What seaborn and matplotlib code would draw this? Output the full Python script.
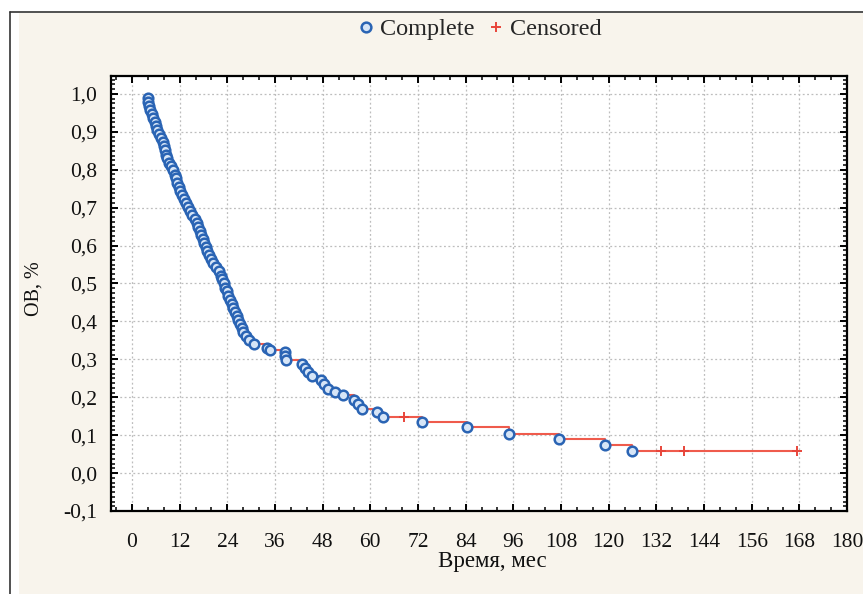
import matplotlib
matplotlib.use("Agg")
import matplotlib.pyplot as plt
from matplotlib.ticker import MultipleLocator, FuncFormatter
from matplotlib.patches import Rectangle
from matplotlib.lines import Line2D
import pandas as pd
import seaborn as sns

# Completed observations: time (months) and survival estimate after the event
event_months = [4.0, 4.1, 4.3, 4.6, 5.0, 5.4, 5.7, 6.0, 6.3, 6.9, 7.4, 7.8, 8.0, 8.2,
                8.5, 8.8, 9.4, 9.9, 10.4, 10.7, 11.0, 11.3, 11.7, 12.0, 12.5, 13.1,
                13.6, 14.0, 14.5, 15.2, 15.8, 16.3, 16.7, 17.1, 17.4, 17.8, 18.1,
                18.5, 18.9, 19.4, 19.9, 20.5, 21.2, 21.8, 22.3, 22.7, 23.1, 23.5,
                23.8, 24.1, 24.6, 25.1, 25.5, 25.9, 26.3, 26.8, 27.2, 27.6, 28.0,
                28.6, 29.4, 30.8, 34.0, 34.8, 38.5, 38.6, 38.7, 42.7, 43.6, 44.3,
                45.3, 47.6, 48.3, 49.4, 51.0, 53.0, 56.0, 57.0, 58.0, 61.6, 63.3,
                73.0, 84.3, 94.8, 107.4, 119.1, 125.9]
event_surv = [0.989, 0.978, 0.968, 0.957, 0.947, 0.936, 0.926, 0.915, 0.904, 0.894,
              0.883, 0.872, 0.862, 0.851, 0.840, 0.830, 0.819, 0.809, 0.798, 0.787,
              0.777, 0.766, 0.755, 0.745, 0.734, 0.723, 0.713, 0.702, 0.691, 0.681,
              0.670, 0.660, 0.649, 0.638, 0.628, 0.617, 0.606, 0.596, 0.585, 0.574,
              0.564, 0.553, 0.543, 0.532, 0.521, 0.511, 0.500, 0.489, 0.479, 0.468,
              0.457, 0.447, 0.436, 0.426, 0.415, 0.404, 0.394, 0.383, 0.372, 0.362,
              0.351, 0.340, 0.330, 0.325, 0.319, 0.309, 0.298, 0.287, 0.277, 0.266,
              0.255, 0.245, 0.234, 0.223, 0.213, 0.206, 0.193, 0.181, 0.170, 0.160,
              0.149, 0.135, 0.121, 0.104, 0.090, 0.073, 0.058]

# Censored observations
censor_months = [68.4, 133.2, 139.0, 167.4]
censor_surv = [0.149, 0.058, 0.058, 0.058]

x_ticks = list(range(0, 181, 12))
y_ticks = [-0.1, 0.0, 0.1, 0.2, 0.3, 0.4, 0.5, 0.6, 0.7, 0.8, 0.9, 1.0]

x_label = "Время, мес"
y_label = "ОВ, %"
legend_labels = ["Complete", "Censored"]

BEIGE = "#f8f4ec"
LINE_RED = "#ef5b4c"
CIRCLE_EDGE = "#2a64b4"
CIRCLE_FACE = "#d6e5f7"
PLUS_RED = "#e8453a"

sns.set_theme(style="white")
plt.rcParams["font.family"] = ["Liberation Serif", "DejaVu Serif"]

W, H = 863, 594
fig = plt.figure(figsize=(W / 100, H / 100), dpi=100, facecolor="white")

# Beige panel with a thin dark rule on its left and top edges
fig.patches.append(Rectangle((19 / W, 0), 1 - 19 / W, 1 - 13 / H,
                             transform=fig.transFigure, facecolor=BEIGE,
                             edgecolor="none", zorder=-10))
fig.lines.append(Line2D([10 / W, 10 / W], [0, 1 - 12 / H], transform=fig.transFigure,
                        color="#333333", lw=1.2, zorder=-5))
fig.lines.append(Line2D([10 / W, 1], [1 - 12 / H, 1 - 12 / H], transform=fig.transFigure,
                        color="#333333", lw=1.2, zorder=-5))

left, right, bottom, top = 111 / W, 847 / W, 1 - 511 / H, 1 - 75.7 / H
ax = fig.add_axes([left, bottom, right - left, top - bottom])
ax.set_zorder(1)
ax.set_facecolor("white")

# Kaplan–Meier step curve, starting at the first event
step_x = [event_months[0]] + event_months + [censor_months[-1]]
step_y = [1.0] + event_surv + [event_surv[-1]]
steps = pd.DataFrame({"t": step_x, "s": step_y})
sns.lineplot(data=steps, x="t", y="s", ax=ax, drawstyle="steps-post", sort=False,
             estimator=None, color=LINE_RED, lw=1.5, zorder=3)

events = pd.DataFrame({"t": event_months, "s": event_surv})
sns.scatterplot(data=events, x="t", y="s", ax=ax, marker="o", s=48,
                facecolor=CIRCLE_FACE, edgecolor=CIRCLE_EDGE, linewidth=1.8, zorder=4)

cens = pd.DataFrame({"t": censor_months, "s": censor_surv})
sns.scatterplot(data=cens, x="t", y="s", ax=ax, marker="+", s=45,
                color=PLUS_RED, linewidth=1.4, zorder=5)

ax.set_xlim(-5.3, 180)
ax.set_ylim(-0.1, 1.048)
ax.set_xticks(x_ticks)
ax.set_yticks(y_ticks)
ax.xaxis.set_minor_locator(MultipleLocator(4))
ax.yaxis.set_minor_locator(MultipleLocator(0.0125))
ax.yaxis.set_major_formatter(FuncFormatter(
    lambda v, p: f"{v:.1f}".replace(".", ",").replace("-0,0", "0,0")))
ax.xaxis.set_major_formatter(FuncFormatter(lambda v, p: f"{int(round(v))}"))

ax.grid(True, which="major", color="#bdbdbd", linestyle=(0, (1.5, 2)), lw=0.9)
ax.set_axisbelow(True)
for sp in ax.spines.values():
    sp.set_visible(True)
    sp.set_color("black")
    sp.set_linewidth(1.6)

ax.tick_params(which="both", direction="in", top=True, right=True, bottom=True,
               left=True, color="black")
ax.tick_params(which="major", length=5, width=1.4)
ax.tick_params(which="minor", length=3, width=1.1)
ax.tick_params(axis="x", which="major", labelsize=15.5, pad=16, labelcolor="#111111")
ax.tick_params(axis="y", which="major", labelsize=15.5, pad=10, labelcolor="#111111")

ax.set_xlabel(x_label, fontsize=16.5, color="#111111")
ax.set_ylabel(y_label, fontsize=14.5, color="#111111")
ax.xaxis.set_label_coords((492 - 111) / 736, -(562 - 511) / (511 - 75.7), transform=ax.transAxes)
ax.xaxis.label.set_va("center")
ax.yaxis.set_label_coords(-(111 - 34) / 736, 0.51)
ax.yaxis.label.set_va("center")

handles = [
    Line2D([], [], marker="o", linestyle="none", markersize=7,
           markerfacecolor=CIRCLE_FACE, markeredgecolor=CIRCLE_EDGE, markeredgewidth=1.8),
    Line2D([], [], marker="+", linestyle="none", markersize=7,
           color=PLUS_RED, markeredgewidth=1.4),
]
fig.legend(handles, legend_labels, loc="center", bbox_to_anchor=(479 / W, 1 - 29 / H),
           ncol=2, frameon=False, fontsize=17.5, handletextpad=0.15,
           columnspacing=0.5, handlelength=0.8, borderpad=0)

fig.savefig("out.png", dpi=100, facecolor="white")
